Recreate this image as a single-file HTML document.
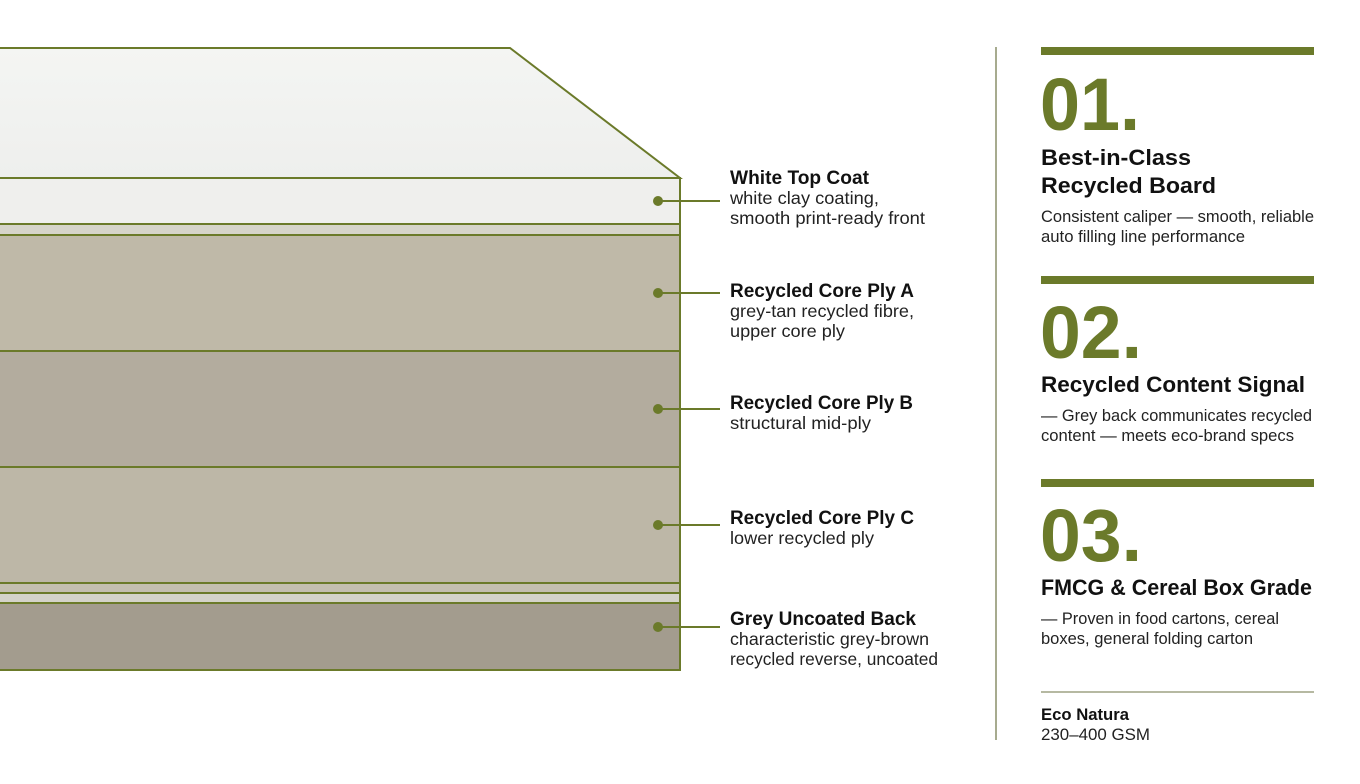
<!DOCTYPE html>
<html><head><meta charset="utf-8"><style>
html,body{margin:0;padding:0;background:#fff;}
svg{display:block;font-family:"Liberation Sans",Arial,sans-serif;}
.t{font-weight:bold;font-size:19px;fill:#111;}
.s{font-size:17.5px;fill:#222;}
.n{font-weight:bold;font-size:74px;fill:#6b7a2a;}
.h{font-weight:bold;font-size:22px;fill:#111;}
.b{font-size:16.5px;fill:#222;}
</style></head><body>
<svg width="1360" height="784" viewBox="0 0 1360 784">
<defs>
<linearGradient id="tg" x1="0" y1="0" x2="0" y2="1"><stop offset="0" stop-color="#f4f5f3"/><stop offset="1" stop-color="#eeefed"/></linearGradient>
</defs>
<g stroke="#6b7a2a" stroke-width="2">
<polygon points="-2,48 510,48 680,178 -2,178" fill="url(#tg)"/>
<rect x="-2" y="178" width="682" height="46" fill="#efefed"/>
<rect x="-2" y="224" width="682" height="11" fill="#d6d4ca"/>
<rect x="-2" y="235" width="682" height="116" fill="#bfb9a8"/>
<rect x="-2" y="351" width="682" height="116" fill="#b3ac9e"/>
<rect x="-2" y="467" width="682" height="116" fill="#bdb7a7"/>
<rect x="-2" y="583" width="682" height="10" fill="#c4bfb0"/>
<rect x="-2" y="593" width="682" height="10" fill="#d4d3ca"/>
<rect x="-2" y="603" width="682" height="67" fill="#a39c8e"/>
</g>
<g stroke="#6b7a2a" stroke-width="2">
<line x1="658" y1="201" x2="720" y2="201"/>
<line x1="658" y1="293" x2="720" y2="293"/>
<line x1="658" y1="409" x2="720" y2="409"/>
<line x1="658" y1="525" x2="720" y2="525"/>
<line x1="658" y1="627" x2="720" y2="627"/>
</g>
<g fill="#6b7a2a">
<circle cx="658" cy="201" r="5"/><circle cx="658" cy="293" r="5"/><circle cx="658" cy="409" r="5"/><circle cx="658" cy="525" r="5"/><circle cx="658" cy="627" r="5"/>
</g>
<text class="t" x="730" y="184" textLength="139" lengthAdjust="spacingAndGlyphs">White Top Coat</text>
<text class="s" x="730" y="204" textLength="149" lengthAdjust="spacingAndGlyphs">white clay coating,</text>
<text class="s" x="730" y="224" textLength="195" lengthAdjust="spacingAndGlyphs">smooth print-ready front</text>
<text class="t" x="730" y="297" textLength="184" lengthAdjust="spacingAndGlyphs">Recycled Core Ply A</text>
<text class="s" x="730" y="317" textLength="184" lengthAdjust="spacingAndGlyphs">grey-tan recycled fibre,</text>
<text class="s" x="730" y="337" textLength="115" lengthAdjust="spacingAndGlyphs">upper core ply</text>
<text class="t" x="730" y="409" textLength="183" lengthAdjust="spacingAndGlyphs">Recycled Core Ply B</text>
<text class="s" x="730" y="429" textLength="141" lengthAdjust="spacingAndGlyphs">structural mid-ply</text>
<text class="t" x="730" y="524" textLength="184" lengthAdjust="spacingAndGlyphs">Recycled Core Ply C</text>
<text class="s" x="730" y="544" textLength="144" lengthAdjust="spacingAndGlyphs">lower recycled ply</text>
<text class="t" x="730" y="625" textLength="186" lengthAdjust="spacingAndGlyphs">Grey Uncoated Back</text>
<text class="s" x="730" y="645" textLength="199" lengthAdjust="spacingAndGlyphs">characteristic grey-brown</text>
<text class="s" x="730" y="665" textLength="208" lengthAdjust="spacingAndGlyphs">recycled reverse, uncoated</text>

<line x1="996" y1="47" x2="996" y2="740" stroke="#8a8f6a" stroke-width="1.5"/>
<rect x="1041" y="47" width="273" height="8" fill="#6b7a2a"/>
<rect x="1041" y="276" width="273" height="8" fill="#6b7a2a"/>
<rect x="1041" y="479" width="273" height="8" fill="#6b7a2a"/>

<text class="n" x="1040" y="130" textLength="100" lengthAdjust="spacingAndGlyphs">01.</text>
<text class="h" x="1041" y="165" textLength="150" lengthAdjust="spacingAndGlyphs">Best-in-Class</text>
<text class="h" x="1041" y="193" textLength="175" lengthAdjust="spacingAndGlyphs">Recycled Board</text>
<text class="b" x="1041" y="222" textLength="273" lengthAdjust="spacingAndGlyphs">Consistent caliper — smooth, reliable</text>
<text class="b" x="1041" y="242" textLength="204" lengthAdjust="spacingAndGlyphs">auto filling line performance</text>

<text class="n" x="1040" y="358" textLength="102" lengthAdjust="spacingAndGlyphs">02.</text>
<text class="h" x="1041" y="392" textLength="264" lengthAdjust="spacingAndGlyphs">Recycled Content Signal</text>
<text class="b" x="1041" y="421" textLength="271" lengthAdjust="spacingAndGlyphs">— Grey back communicates recycled</text>
<text class="b" x="1041" y="441" textLength="253" lengthAdjust="spacingAndGlyphs">content — meets eco-brand specs</text>

<text class="n" x="1040" y="561" textLength="102" lengthAdjust="spacingAndGlyphs">03.</text>
<text class="h" x="1041" y="595" textLength="271" lengthAdjust="spacingAndGlyphs">FMCG &amp; Cereal Box Grade</text>
<text class="b" x="1041" y="624" textLength="238" lengthAdjust="spacingAndGlyphs">— Proven in food cartons, cereal</text>
<text class="b" x="1041" y="644" textLength="212" lengthAdjust="spacingAndGlyphs">boxes, general folding carton</text>

<line x1="1041" y1="692" x2="1314" y2="692" stroke="#8a8f6a" stroke-width="1.2"/>
<text x="1041" y="720" style="font-weight:bold;font-size:16.5px;fill:#111" textLength="88" lengthAdjust="spacingAndGlyphs">Eco Natura</text>
<text x="1041" y="740" style="font-size:16.5px;fill:#222" textLength="109" lengthAdjust="spacingAndGlyphs">230–400 GSM</text>
</svg>
</body></html>
